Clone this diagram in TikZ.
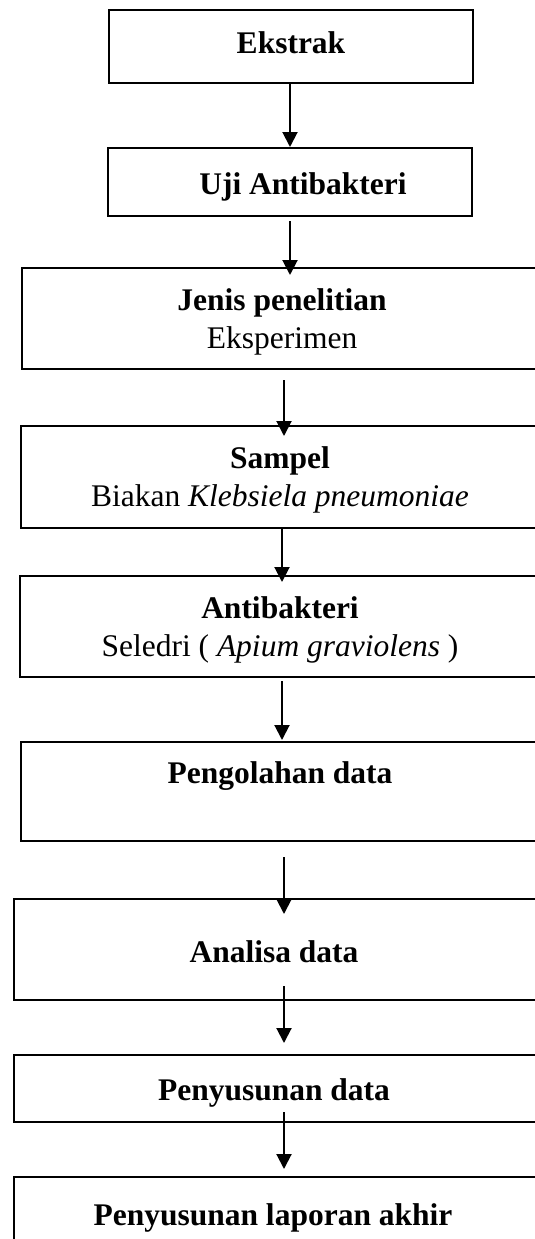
\documentclass[tikz,border=0pt]{standalone}
\usepackage{fontspec}
\setmainfont{Liberation Serif}
\usetikzlibrary{arrows.meta}
\begin{document}
\begin{tikzpicture}[x=1pt,y=-1pt,
  box/.style={draw, line width=2pt, anchor=north west, inner sep=0pt},
  ttl/.style={anchor=base, inner sep=0pt, font=\fontsize{31.5}{36}\selectfont\bfseries},
  sub/.style={anchor=base, inner sep=0pt, font=\fontsize{31.5}{36}\selectfont},
  arr/.style={line width=2pt, -{Triangle[width=15pt,length=15pt]}}]
\clip (0,0) rectangle (535,1239);
\fill[white] (0,0) rectangle (535,1239);
% boxes
\node[box, minimum width=364pt, minimum height=73pt] (ek) at (108,9) {};
\node[box, minimum width=364pt, minimum height=68pt] (uji) at (107,147) {};
\node[box, minimum width=560pt, minimum height=101pt] (jenis) at (21,267) {};
\node[box, minimum width=560pt, minimum height=102pt] (sampel) at (20,425) {};
\node[box, minimum width=560pt, minimum height=101pt] (anti) at (19,575) {};
\node[box, minimum width=560pt, minimum height=99pt] (peng) at (20,741) {};
\node[box, minimum width=560pt, minimum height=101pt] (anal) at (13,898) {};
\node[box, minimum width=560pt, minimum height=67pt] (pd) at (13,1054) {};
\node[box, minimum width=560pt, minimum height=100pt] (fin) at (13,1176) {};
% texts
\node[ttl] (tek) at (291,53) {Ekstrak};
\node[ttl] (tuji) at (303,194) {Uji Antibakteri};
\node[ttl] (tjenis) at (282,310) {Jenis penelitian};
\node[sub] (sjenis) at (282,348) {Eksperimen};
\node[ttl] (tsampel) at (280,468) {Sampel};
\node[sub] (ssampel) at (280,506) {Biakan \textit{Klebsiela pneumoniae}};
\node[ttl] (tanti) at (280,618) {Antibakteri};
\node[sub] (santi) at (280,656) {Seledri ( \textit{Apium graviolens} )};
\node[ttl] (tpeng) at (280,783) {Pengolahan data};
\node[ttl] (tanal) at (274,962) {Analisa data};
\node[ttl] (tpd) at (274,1100) {Penyusunan data};
\node[ttl] (tfin) at (273,1225) {Penyusunan laporan akhir};
% arrow columns
\coordinate (c1) at (290,0);
\coordinate (c2) at (284,0);
\coordinate (c3) at (282,0);
\draw[arr] (ek.south -| c1) -- (uji.north -| c1);
\draw[arr, shorten <=4pt, shorten >=-8pt] (uji.south -| c1) -- (jenis.north -| c1);
\draw[arr, shorten <=10pt, shorten >=-11pt] (jenis.south -| c2) -- (sampel.north -| c2);
\draw[arr, shorten >=-7pt] (sampel.south -| c3) -- (anti.north -| c3);
\draw[arr, shorten <=3pt, shorten >=1pt] (anti.south -| c3) -- (peng.north -| c3);
\draw[arr, shorten <=15pt, shorten >=-16pt] (peng.south -| c2) -- (anal.north -| c2);
\draw[arr, shorten <=-15pt, shorten >=11pt] (anal.south -| c2) -- (pd.north -| c2);
\draw[arr, shorten <=-11pt, shorten >=7pt] (pd.south -| c2) -- (fin.north -| c2);
\end{tikzpicture}
\end{document}
